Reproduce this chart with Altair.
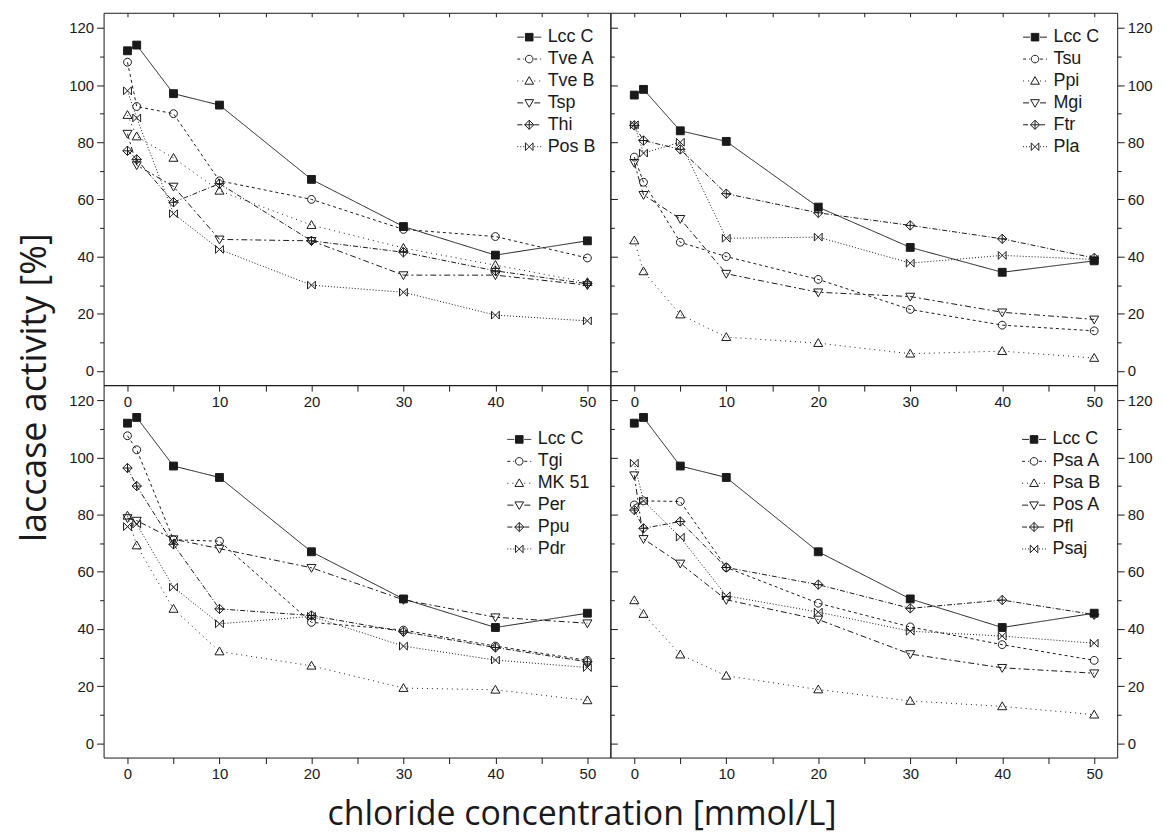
import altair as alt
import pandas as pd

# ---------------- data ----------------
conc = [0, 1, 5, 10, 20, 30, 40, 50]

lcc_c = [112, 114, 97, 93, 67, 50.5, 40.5, 45.5]

tl_names = ["Lcc C", "Tve A", "Tve B", "Tsp", "Thi", "Pos B"]
tve_a = [108, 92.5, 90, 66.5, 60, 49.5, 47, 39.5]
tve_b = [89.5, 82, 74.5, 63, 51, 43, 37, 31]
tsp = [83, 72, 64.5, 46, 45.5, 33.5, 33.5, 30]
thi = [77, 74, 59, 65.5, 45.5, 41.5, 35, 30.5]
pos_b = [98, 88.5, 55, 42.5, 30, 27.5, 19.5, 17.5]

tr_names = ["Lcc C", "Tsu", "Ppi", "Mgi", "Ftr", "Pla"]
lcc_c_tr = [96.5, 98.5, 84, 80.3, 57.3, 43.2, 34.5, 38.5]
tsu = [74.8, 66, 45, 40, 32, 21.5, 16, 14]
ppi = [45.6, 34.8, 19.7, 11.8, 9.7, 6, 6.9, 4.5]
mgi = [72.8, 61.6, 53.2, 34, 27.5, 26, 20.5, 18]
ftr = [85.9, 80.6, 77.5, 62, 55.3, 50.9, 46.2, 39.5]
pla = [86.1, 76.2, 80, 46.4, 46.8, 37.7, 40.4, 39]

bl_names = ["Lcc C", "Tgi", "MK 51", "Per", "Ppu", "Pdr"]
tgi = [107.6, 102.7, 71.2, 70.7, 42.3, 39.6, 34, 29]
mk51 = [79.6, 69.2, 47, 32.1, 27.1, 19.3, 18.7, 15]
per = [78.8, 77.9, 71.4, 68.1, 61.4, 50.2, 44.1, 42]
ppu = [96.3, 90, 69.6, 47, 44.7, 39, 33.5, 28.5]
pdr = [75.8, 76.7, 54.6, 41.8, 44.4, 34, 29.1, 26.5]

br_names = ["Lcc C", "Psa A", "Psa B", "Pos A", "Pfl", "Psaj"]
psa_a = [83.4, 84.8, 84.6, 61.5, 49, 40.7, 34.5, 29]
psa_b = [50, 45.2, 31, 23.6, 18.8, 14.8, 12.9, 10]
pos_a = [93.8, 71.5, 62.9, 50.2, 43.3, 31.2, 26.4, 24.5]
pfl = [81.6, 75.2, 77.6, 61.5, 55.5, 47.2, 50.1, 45]
psaj = [98, 84.8, 72.1, 51.6, 45.9, 39.2, 37.5, 35]

x_ticks = [0, 5, 10, 15, 20, 25, 30, 35, 40, 45, 50]
y_ticks = [0, 10, 20, 30, 40, 50, 60, 70, 80, 90, 100, 110, 120]

# ---------------- styling ----------------
INK = "#1a1a1a"
W, H = 509, 374
X_DOM = [-2.6, 52.5]
Y_DOM = [-5.0, 125.3]
TICK_FONT = "Liberation Sans"
TITLE_FONT = "Open Sans"

dashes = [[1, 0], [3, 3], [1, 4], [6, 3, 2, 3], [5, 2, 1, 2], [1, 2]]
fills = [INK, "transparent", "transparent", "transparent", "transparent", "transparent"]
strokes = [INK] * 6


def m_square(s):
    return f"M{-s},{-s}H{s}V{s}H{-s}Z"


def m_circle(s):
    return f"M{s},0A{s},{s},0,1,1,{-s},0A{s},{s},0,1,1,{s},0Z"


def m_tri_up(s):
    a = 1.15 * s
    return f"M0,{-a}L{a},{0.85 * s}L{-a},{0.85 * s}Z"


def m_tri_down(s):
    a = 1.15 * s
    return f"M0,{a}L{a},{-0.85 * s}L{-a},{-0.85 * s}Z"


def m_diamond_plus(s):
    a = 1.2 * s
    return f"M0,{-a}L{a},0L0,{a}L{-a},0ZM0,{-a}V{a}M{-a},0H{a}"


def m_bowtie(s):
    return f"M{-s},{-s}L{s},{s}V{-s}L{-s},{s}Z"


markers = [m_square, m_circle, m_tri_up, m_tri_down, m_diamond_plus, m_bowtie]

LEG_R = 12.0  # legend symbol half width in px (size = (2*r)^2)


def dash_path(x0, x1, pattern):
    out = []
    pos, i, on = x0, 0, True
    while pos < x1 - 1e-6:
        ln = pattern[i % len(pattern)] / LEG_R
        end = min(pos + ln, x1)
        if on and end > pos:
            out.append(f"M{pos:.3f},0L{end:.3f},0")
        pos, on, i = end, not on, i + 1
    return "".join(out)


point_paths = [m(1) for m in markers]
legend_paths = []
for m, d in zip(markers, dashes):
    legend_paths.append(
        dash_path(-1.0, -0.42, d) + m(3.8 / LEG_R) + dash_path(0.42, 1.0, d)
    )

INDEP = dict(shape="independent", fill="independent", stroke="independent",
             strokeDash="independent")

# legend anchor per panel (col, row) -> (x, y) inside the plot area
LEG_POS = {(0, 0): (415, 12), (1, 0): (414, 12), (0, 1): (405, 42), (1, 1): (413, 42)}


def make_panel(names, values, col, row):
    recs = []
    for name, vals in zip(names, values):
        for xv, yv in zip(conc, vals):
            recs.append({"conc": xv, "act": yv, "series": name})
    df = pd.DataFrame(recs)

    xs = alt.Scale(domain=X_DOM, nice=False, zero=False)
    ys = alt.Scale(domain=Y_DOM, nice=False, zero=False)

    x_lab_expr = "datum.value % 10 == 0 ? datum.label : ''"
    y_lab_expr = "datum.value % 20 == 0 ? datum.label : ''"
    y_tick_size = {"condition": {"test": "datum.value % 20 == 0", "value": 7}, "value": 4}

    # bottom x axis (with labels)
    x_kw = dict(values=x_ticks, labelExpr=x_lab_expr, tickSize=6, orient="bottom",
                labelPadding=3, grid=False, domain=False, title=None)
    if row == 1 and col == 0:
        x_kw.update(title="chloride concentration [mmol/L]", titleX=480, titleY=57,
                    titleAlign="center", titleBaseline="middle", titleFont=TITLE_FONT,
                    titleFontSize=34, titleFontWeight="normal", titleColor=INK)
    x_axis_main = alt.Axis(**x_kw)

    # main y axis with labels
    y_kw = dict(values=y_ticks, labelExpr=y_lab_expr, tickSize=y_tick_size,
                orient="left" if col == 0 else "right", labelPadding=3,
                grid=False, domain=False, title=None)
    if row == 0 and col == 0:
        y_kw.update(title="laccase activity [%]", titleX=-69, titleY=H + 2,
                    titleAlign="center", titleBaseline="middle", titleAngle=-90,
                    titleFont=TITLE_FONT, titleFontSize=36, titleFontWeight="normal",
                    titleColor=INK)
    y_axis_main = alt.Axis(**y_kw)

    # secondary axes (ticks only)
    if row == 0:
        x_axis_2 = alt.Axis(values=x_ticks, orient="top", labels=False, tickSize=4,
                            offset=-4, domain=False, grid=False, title=None)
    else:
        x_axis_2 = None
    if col == 0:
        y_axis_2 = alt.Axis(values=y_ticks, orient="right", labels=False,
                            tickSize=y_tick_size, domain=False, grid=False, title=None)
    else:
        y_axis_2 = None

    lines = alt.Chart(df).mark_line(color=INK, strokeWidth=1).encode(
        x=alt.X("conc:Q", scale=xs, axis=x_axis_main),
        y=alt.Y("act:Q", scale=ys, axis=y_axis_main),
        strokeDash=alt.StrokeDash("series:N", scale=alt.Scale(domain=names, range=dashes), legend=None),
        detail="series:N",
    )

    points = alt.Chart(df).mark_point(filled=True, stroke=INK, strokeWidth=1, opacity=1, size=62).encode(
        x=alt.X("conc:Q", scale=xs, axis=x_axis_2),
        y=alt.Y("act:Q", scale=ys, axis=y_axis_2),
        shape=alt.Shape("series:N", scale=alt.Scale(domain=names, range=point_paths), legend=None),
        fill=alt.Fill("series:N", scale=alt.Scale(domain=names, range=fills), legend=None),
    )

    lx, ly = LEG_POS[(col, row)]
    leg = alt.Legend(title=None, orient="none", legendX=lx, legendY=ly,
                     symbolSize=(2 * LEG_R) ** 2, symbolStrokeWidth=1,
                     symbolStrokeColor=INK, labelFont=TICK_FONT, labelFontSize=18,
                     labelColor=INK, labelOffset=6, rowPadding=0, padding=0,
                     symbolOffset=0)
    legend_layer = alt.Chart(df).transform_filter("false").mark_point(
        filled=True, strokeWidth=1, opacity=1
    ).encode(
        shape=alt.Shape("series:N", scale=alt.Scale(domain=names, range=legend_paths), legend=leg),
        fill=alt.Fill("series:N", scale=alt.Scale(domain=names, range=fills), legend=leg),
        stroke=alt.Stroke("series:N", scale=alt.Scale(domain=names, range=strokes), legend=leg),
    )

    return (
        alt.layer(lines, points, legend_layer)
        .resolve_scale(**INDEP)
        .resolve_legend(shape="independent", fill="independent", stroke="independent")
        .resolve_axis(x="independent", y="independent")
        .properties(width=W, height=H)
    )


tl = make_panel(tl_names, [lcc_c, tve_a, tve_b, tsp, thi, pos_b], 0, 0)
tr = make_panel(tr_names, [lcc_c_tr, tsu, ppi, mgi, ftr, pla], 1, 0)
bl = make_panel(bl_names, [lcc_c, tgi, mk51, per, ppu, pdr], 0, 1)
br = make_panel(br_names, [lcc_c, psa_a, psa_b, pos_a, pfl, psaj], 1, 1)

chart = (
    alt.concat(tl, tr, bl, br, columns=2, spacing=0, bounds="flush")
    .resolve_scale(**INDEP)
    .resolve_legend(shape="independent", fill="independent", stroke="independent")
    .properties(padding={"left": 8, "top": 2, "right": 5, "bottom": 0}, background="white")
    .configure_view(stroke=INK, strokeWidth=1)
    .configure_axis(labelFont=TICK_FONT, labelFontSize=15, labelColor=INK,
                    tickColor=INK, tickWidth=1, labelOverlap=False, labelFlush=False)
)

chart.save("out.html", embed_options={"renderer": "svg", "actions": False})
